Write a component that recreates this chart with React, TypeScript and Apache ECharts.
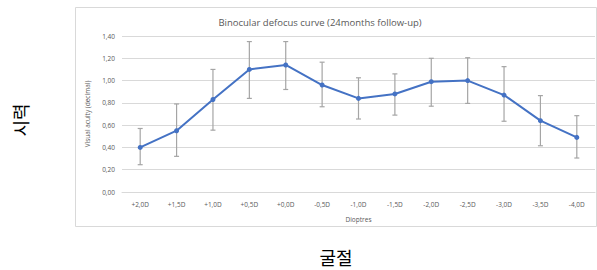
import React, { useEffect, useRef } from "react";
import * as echarts from "echarts";

const categories = ["+2,0D", "+1,5D", "+1,0D", "+0,5D", "+0,0D", "-0,5D", "-1,0D", "-1,5D", "-2,0D", "-2,5D", "-3,0D", "-3,5D", "-4,0D"];
const meanValues = [0.40, 0.55, 0.83, 1.10, 1.14, 0.96, 0.84, 0.88, 0.99, 1.00, 0.87, 0.64, 0.49];
const upperValues = [0.57, 0.79, 1.10, 1.35, 1.35, 1.165, 1.025, 1.06, 1.20, 1.205, 1.125, 0.865, 0.685];
const lowerValues = [0.245, 0.32, 0.555, 0.84, 0.92, 0.765, 0.655, 0.69, 0.77, 0.795, 0.635, 0.415, 0.305];

const titleText = "Binocular defocus curve (24months follow-up)";
const xName = "Dioptres";
const yName = "Visual acuity (decimal)";
const outerY = "시력";
const outerX = "굴절";

export default function App() {
  const ref = useRef<HTMLDivElement>(null);
  useEffect(() => {
    if (!ref.current) return;
    const chart = echarts.init(ref.current, null, { renderer: "svg" });
    const font = "'Open Sans', 'Liberation Sans', sans-serif";
    const errData = categories.map((_, i) => [i, lowerValues[i], upperValues[i]]);
    chart.setOption({
      animation: false,
      textStyle: { fontFamily: font },
      title: {
        text: titleText,
        left: 315,
        top: 12,
        textAlign: "center",
        textStyle: { fontSize: 9.5, fontWeight: "normal", color: "#595959", fontFamily: font },
      },
      graphic: [
        {
          type: "rect",
          shape: { x: 75.5, y: 7.5, width: 521, height: 219 },
          style: { fill: "none", stroke: "#d9d9d9", lineWidth: 1 },
          z: -1,
        },
        {
          type: "text",
          x: 20,
          y: 120,
          rotation: Math.PI / 2,
          style: {
            text: outerY,
            fontSize: 18,
            fill: "#000",
            fontFamily: "'Noto Sans CJK KR', sans-serif",
            align: "center",
            verticalAlign: "middle",
          },
        },
        {
          type: "text",
          x: 336,
          y: 257,
          style: {
            text: outerX,
            fontSize: 18,
            fill: "#000",
            fontFamily: "'Noto Sans CJK KR', sans-serif",
            align: "center",
            verticalAlign: "middle",
          },
        },
      ],
      grid: { left: 122, right: 2, top: 36, bottom: 78, containLabel: false },
      xAxis: {
        type: "category",
        data: categories,
        name: xName,
        nameLocation: "middle",
        nameGap: 24,
        nameTextStyle: { fontSize: 6.5, color: "#595959" },
        axisLine: { show: true, lineStyle: { color: "#d9d9d9" } },
        axisTick: { show: false },
        axisLabel: { fontSize: 6.5, color: "#595959", margin: 9, interval: 0 },
      },
      yAxis: {
        type: "value",
        min: 0,
        max: 1.4,
        interval: 0.2,
        name: yName,
        nameLocation: "middle",
        nameGap: 30,
        nameTextStyle: { fontSize: 6.5, color: "#595959" },
        axisLine: { show: false },
        axisTick: { show: false },
        splitLine: { lineStyle: { color: "#d9d9d9", width: 1 } },
        axisLabel: {
          fontSize: 6.5,
          color: "#595959",
          margin: 7,
          formatter: (v: number) => v.toFixed(2).replace(".", ","),
        },
      },
      series: [
        {
          type: "custom",
          data: errData,
          z: 1,
          renderItem: (params: any, api: any) => {
            const x = api.value(0);
            const lo = api.coord([x, api.value(1)]);
            const hi = api.coord([x, api.value(2)]);
            const cap = 2.5;
            const style = { stroke: "#a5a5a5", lineWidth: 1.2 };
            return {
              type: "group",
              children: [
                { type: "line", shape: { x1: hi[0], y1: hi[1], x2: lo[0], y2: lo[1] }, style },
                { type: "line", shape: { x1: hi[0] - cap, y1: hi[1], x2: hi[0] + cap, y2: hi[1] }, style },
                { type: "line", shape: { x1: lo[0] - cap, y1: lo[1], x2: lo[0] + cap, y2: lo[1] }, style },
              ],
            };
          },
        },
        {
          type: "line",
          data: meanValues,
          z: 3,
          symbol: "circle",
          symbolSize: 5,
          lineStyle: { color: "#4472c4", width: 2 },
          itemStyle: { color: "#4472c4" },
        },
      ],
    });
    return () => chart.dispose();
  }, []);
  return (
    <div
      ref={ref}
      style={{ position: "fixed", left: 0, top: 0, width: 597, height: 270, background: "#fff" }}
    />
  );
}
